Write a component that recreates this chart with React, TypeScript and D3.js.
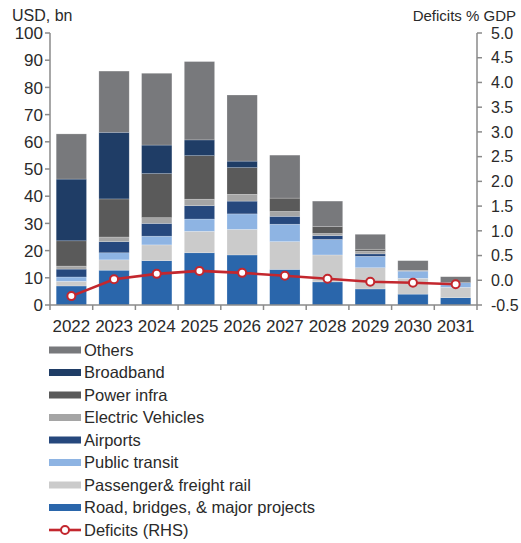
import React from "react";
import * as d3 from "d3";

const years = ["2022", "2023", "2024", "2025", "2026", "2027", "2028", "2029", "2030", "2031"];

// Stacked segments (USD bn), bottom to top
const road = [7.0, 12.8, 16.3, 19.2, 18.4, 13.1, 8.5, 5.9, 4.0, 2.7];
const passengerRail = [1.7, 3.8, 5.8, 7.9, 9.4, 10.2, 9.9, 7.8, 5.8, 3.8];
const publicTransit = [1.6, 2.6, 3.2, 4.5, 5.7, 6.4, 5.7, 4.2, 2.6, 1.7];
const airports = [2.9, 4.1, 4.7, 4.9, 4.7, 2.9, 1.4, 0.9, 0.1, 0];
const electricVehicles = [1.1, 1.7, 2.1, 2.4, 2.5, 1.8, 0.8, 0.9, 0.1, 0];
const powerInfra = [9.3, 14.0, 16.2, 16.0, 9.8, 4.9, 2.5, 0.8, 0.1, 0];
const broadband = [22.7, 24.5, 10.5, 5.8, 2.4, 0, 0, 0, 0, 0];
const others = [16.6, 22.5, 26.4, 28.8, 24.3, 15.8, 9.4, 5.5, 3.6, 2.2];

// Deficits % GDP (RHS)
const deficits = [-0.32, 0.02, 0.13, 0.19, 0.15, 0.09, 0.03, -0.03, -0.05, -0.08];

const leftTicks = [0, 10, 20, 30, 40, 50, 60, 70, 80, 90, 100];
const rightTicks = [-0.5, 0, 0.5, 1, 1.5, 2, 2.5, 3, 3.5, 4, 4.5, 5];

const seriesNames = [
  "Road, bridges, & major projects",
  "Passenger& freight rail",
  "Public transit",
  "Airports",
  "Electric Vehicles",
  "Power infra",
  "Broadband",
  "Others",
];
const seriesValues = [road, passengerRail, publicTransit, airports, electricVehicles, powerInfra, broadband, others];
const seriesColors = ["#2a66ab", "#cbcbcb", "#8eb4e3", "#26487d", "#a5a5a5", "#5a5a5a", "#1f3d66", "#78797c"];
const lineColor = "#c3272e";

const FONT = "'Liberation Sans', Arial, sans-serif";

export default function App() {
  const W = 521;
  const H = 543;
  const left = 50;
  const right = 477;
  const top = 33;
  const bottom = 305;

  const x = d3.scaleBand<string>().domain(years).range([left, right]).paddingInner(0.29).paddingOuter(0.145);
  const band = (right - left) / years.length;
  const yL = d3.scaleLinear().domain([0, 100]).range([bottom, top]);
  const yR = d3.scaleLinear().domain([-0.5, 5]).range([bottom, top]);

  const tableRows = years.map((yr, i) => {
    const row: Record<string, number | string> = { year: yr };
    seriesNames.forEach((n, k) => (row[n] = seriesValues[k][i]));
    return row;
  });
  const stacked = d3.stack<Record<string, number | string>>().keys(seriesNames)(tableRows as any);

  const line = d3
    .line<number>()
    .x((_, i) => (x(years[i]) as number) + x.bandwidth() / 2)
    .y((d) => yR(d));

  const axisColor = "#8a8a8a";
  const textColor = "#2a2a2a";

  const legendItems = [...seriesNames.map((n, k) => ({ name: n, color: seriesColors[k] }))].reverse();

  return (
    <svg
      width={W}
      height={H}
      style={{ position: "absolute", left: 0, top: 0, background: "#fff" }}
      fontFamily={FONT}
    >
      <rect x={0} y={0} width={W} height={H} fill="#fff" />
      {/* titles */}
      <text x={12} y={21} fontSize={16} fill={textColor}>USD, bn</text>
      <text x={516} y={21} fontSize={15} fill={textColor} textAnchor="end">Deficits % GDP</text>

      {/* bars */}
      {stacked.map((s, k) => (
        <g key={k}>
          {s.map((d, i) => {
            const h = yL(d[0]) - yL(d[1]);
            if (h <= 0) return null;
            return (
              <rect
                key={i}
                x={x(years[i])}
                y={yL(d[1])}
                width={x.bandwidth()}
                height={h}
                fill={seriesColors[k]}
                stroke="rgba(255,255,255,0.35)"
                strokeWidth={0.6}
              />
            );
          })}
        </g>
      ))}

      {/* left axis */}
      <line x1={left} x2={left} y1={top} y2={bottom} stroke={axisColor} strokeWidth={1.5} />
      {leftTicks.map((t) => (
        <g key={t}>
          <line x1={left - 5} x2={left} y1={yL(t)} y2={yL(t)} stroke={axisColor} strokeWidth={1.5} />
          <text x={43} y={yL(t)} dy="0.36em" fontSize={17} textAnchor="end" fill={textColor}>
            {t}
          </text>
        </g>
      ))}

      {/* right axis */}
      <line x1={right} x2={right} y1={top} y2={bottom} stroke={axisColor} strokeWidth={1.5} />
      {rightTicks.map((t) => (
        <g key={t}>
          <line x1={right} x2={right + 5} y1={yR(t)} y2={yR(t)} stroke={axisColor} strokeWidth={1.5} />
          <text x={491} y={yR(t)} dy="0.36em" fontSize={16} textAnchor="start" fill={textColor}>
            {t < 0 ? "-" + Math.abs(t).toFixed(1) : t.toFixed(1)}
          </text>
        </g>
      ))}

      {/* bottom axis */}
      <line x1={left} x2={right} y1={bottom} y2={bottom} stroke={axisColor} strokeWidth={1.5} />
      {d3.range(years.length + 1).map((i) => (
        <line
          key={i}
          x1={left + i * band}
          x2={left + i * band}
          y1={bottom}
          y2={bottom + 5}
          stroke={axisColor}
          strokeWidth={1.5}
        />
      ))}
      {years.map((yr) => (
        <text
          key={yr}
          x={(x(yr) as number) + x.bandwidth() / 2}
          y={332}
          fontSize={17}
          textAnchor="middle"
          fill={textColor}
        >
          {yr}
        </text>
      ))}

      {/* deficits line */}
      <path d={line(deficits) || ""} fill="none" stroke={lineColor} strokeWidth={2.6} />
      {deficits.map((d, i) => (
        <circle
          key={i}
          cx={(x(years[i]) as number) + x.bandwidth() / 2}
          cy={yR(d)}
          r={4}
          fill="#fff"
          stroke={lineColor}
          strokeWidth={2}
        />
      ))}

      {/* legend */}
      {legendItems.map((it, i) => {
        const cy = 350 + i * 22.5;
        return (
          <g key={it.name}>
            <rect x={49} y={cy - 3.5} width={32} height={7} fill={it.color} />
            <text x={84} y={cy} dy="0.36em" fontSize={16.5} fill={textColor}>
              {it.name}
            </text>
          </g>
        );
      })}
      {(() => {
        const cy = 350 + legendItems.length * 22.5;
        return (
          <g>
            <line x1={49} x2={81} y1={cy} y2={cy} stroke={lineColor} strokeWidth={2.6} />
            <circle cx={65} cy={cy} r={4} fill="#fff" stroke={lineColor} strokeWidth={2} />
            <text x={84} y={cy} dy="0.36em" fontSize={16.5} fill={textColor}>
              Deficits (RHS)
            </text>
          </g>
        );
      })()}
    </svg>
  );
}
